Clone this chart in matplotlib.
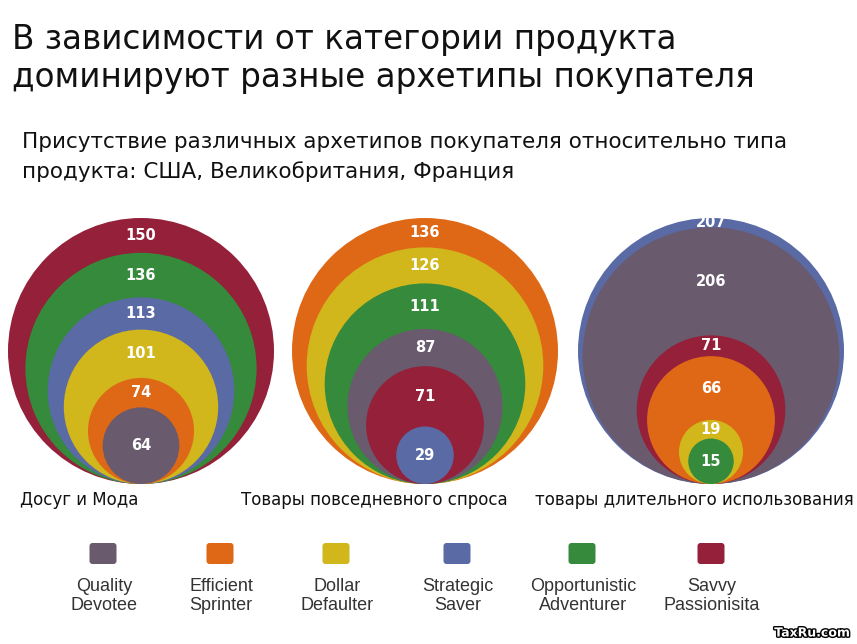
import matplotlib.pyplot as plt
from matplotlib.patches import Circle, FancyBboxPatch
import matplotlib.patheffects as pe
import numpy as np

# Архетипы покупателей и их цвета
archetypes = ["Quality\nDevotee", "Efficient\nSprinter", "Dollar\nDefaulter",
              "Strategic\nSaver", "Opportunistic\nAdventurer", "Savvy\nPassionisita"]
colors = ["#695a6e", "#df6816", "#d1b61c", "#5a6aa5", "#358a3b", "#942039"]

categories = ["Досуг и Мода", "Товары повседневного спроса",
              "товары длительного использования"]

# Значения по архетипам (в порядке списка archetypes)
leisure = [64, 74, 101, 113, 136, 150]
everyday = [87, 136, 126, 29, 111, 71]
durable = [206, 66, 19, 207, 15, 71]
groups = [leisure, everyday, durable]

# Разметка (пиксели)
W, H = 857, 644
group_x = [141, 425, 711]
group_label_x = [20, 241, 535]
BOTTOM = 484
OUTER_D = 266
RING_SCALE = 9.3   # толщина кольца ~ sqrt(разницы значений)
legend_x = [103, 220, 336, 457, 582, 711]

fig = plt.figure(figsize=(W / 100, H / 100), dpi=100)
ax = fig.add_axes([0, 0, 1, 1])
ax.set_xlim(0, W)
ax.set_ylim(H, 0)
ax.set_aspect('equal')
ax.axis('off')


def nested_diameters(vals):
    order = np.argsort(vals)[::-1]
    v = np.array(vals)[order]
    steps = np.sqrt(-np.diff(v))
    d = OUTER_D - RING_SCALE * np.concatenate([[0], np.cumsum(steps)])
    return order, v, d


for g, vals in enumerate(groups):
    cx = group_x[g]
    order, v, d = nested_diameters(vals)
    for k in range(len(v)):
        r = d[k] / 2
        ax.add_patch(Circle((cx, BOTTOM - r), r, facecolor=colors[order[k]],
                            edgecolor='none', zorder=k + 1))
        if k < len(v) - 1:
            y = ((BOTTOM - d[k]) + (BOTTOM - d[k + 1])) / 2
        else:
            y = BOTTOM - r
        ax.text(cx, y, str(v[k]), color='white', fontsize=10.5, fontweight='bold',
                ha='center', va='center', zorder=20)
    ax.text(group_label_x[g], 500, categories[g], fontsize=12, color='#111111',
            ha='left', va='center')

# Заголовки
ax.text(12, 49, "В зависимости от категории продукта", fontsize=23.5,
        color='#111111', ha='left', va='baseline')
ax.text(12, 87, "доминируют разные архетипы покупателя", fontsize=23.5,
        color='#111111', ha='left', va='baseline')
ax.text(22, 148, "Присутствие различных архетипов покупателя относительно типа",
        fontsize=15.5, color='#111111', ha='left', va='baseline')
ax.text(22, 178, "продукта: США, Великобритания, Франция",
        fontsize=15.5, color='#111111', ha='left', va='baseline')

# Легенда
for i, name in enumerate(archetypes):
    ax.add_patch(FancyBboxPatch((legend_x[i] - 13.5, 543), 27, 21,
                                boxstyle="round,pad=0,rounding_size=3",
                                facecolor=colors[i], edgecolor='none'))
    ax.text(legend_x[i] + 1, 596, name, fontsize=13, family='Liberation Sans',
            color='#333333', ha='center', va='center', linespacing=1.2)

# Водяной знак
ax.text(850, 633, "TaxRu.com", fontsize=9, fontweight='bold', color='white',
        ha='right', va='center',
        path_effects=[pe.withStroke(linewidth=2, foreground='black')])

fig.savefig("out.png", dpi=100)
